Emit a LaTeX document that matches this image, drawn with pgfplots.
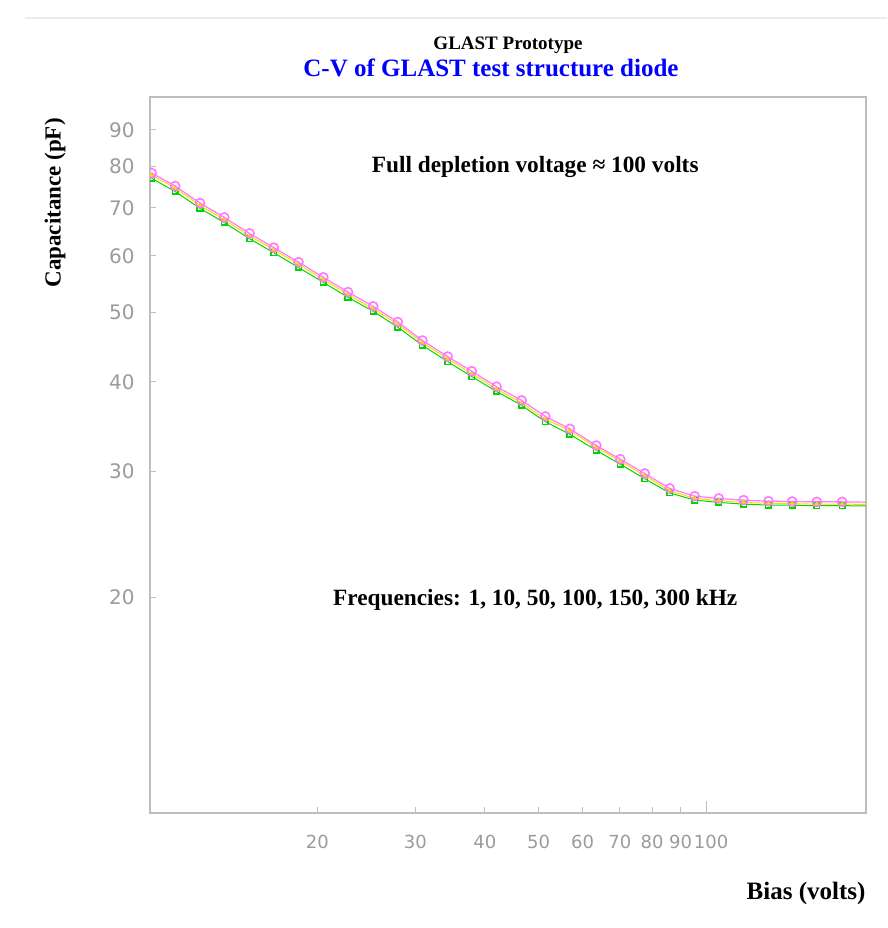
\documentclass[border=0pt]{standalone}
\usepackage{pgfplots}
\pgfplotsset{compat=1.18}
\usepackage{pgfplotstable}
\usepackage{fontspec}
\setmainfont{Liberation Serif}
\newfontfamily\tickfont{DejaVu Sans}
\definecolor{tickgray}{RGB}{155,155,155}
\definecolor{axisgray}{RGB}{190,190,190}
\definecolor{cvpink}{RGB}{255,120,255}
\definecolor{cvyellow}{RGB}{255,215,0}
\definecolor{cvgreen}{RGB}{0,215,0}
\definecolor{cvblue}{RGB}{0,0,255}

\pgfplotstableread{
x      g      yl     p
10.07  77.0   77.8   78.3
11.1   73.8   74.6   75.1
12.3   69.9   70.6   71.1
13.6   66.8   67.4   67.9
15.1   63.4   64.0   64.5
16.7   60.6   61.2   61.6
18.5   57.8   58.4   58.8
20.5   55.1   55.6   56.0
22.7   52.5   53.0   53.4
25.2   50.2   50.6   51.0
27.9   47.7   48.2   48.5
30.9   45.0   45.4   45.7
34.3   42.7   43.1   43.4
37.9   40.7   41.1   41.4
42.0   38.8   39.1   39.4
46.6   37.1   37.4   37.7
51.4   35.2   35.5   35.8
56.9   33.8   34.2   34.4
63.5   32.1   32.4   32.6
70.1   30.7   31.0   31.2
77.6   29.3   29.6   29.8
86.0   28.0   28.2   28.4
95.4   27.35  27.5   27.7
105.4  27.15  27.3   27.5
116.8  27.0   27.15  27.35
129.5  26.92  27.07  27.26
142.9  26.9   27.04  27.23
158.2  26.87  27.0   27.2
175.7  26.87  27.0   27.2
194.1  26.84  26.98  27.17
}\cvdata

\begin{document}
\begin{tikzpicture}
\begin{axis}[
  scale only axis,
  width=716bp, height=716bp,
  xmode=log, ymode=log,
  xmin=10, xmax=194, ymin=10, ymax=100,
  axis line style={axisgray, line width=1.3bp},
  tick style={axisgray, line width=1bp},
  major tick length=6bp,
  tick pos=left,
  tick align=inside,
  xtick={20,30,40,50,60,70,80,90},
  xticklabels={20,30,40,50,60,70,80,90},
  extra x ticks={100},
  extra x tick labels={100},
  extra x tick style={major tick length=12bp, xticklabel style={xshift=5bp}},
  ytick={20,30,40,50,60,70,80,90},
  yticklabels={20,30,40,50,60,70,80,90},
  /pgf/number format/assume math mode=true,
  yticklabel style={font=\tickfont\fontsize{20bp}{22bp}\selectfont, text=tickgray},
  xticklabel style={font=\tickfont\fontsize{18bp}{20bp}\selectfont, text=tickgray},
  xticklabel shift=19bp,
  yticklabel shift=12bp,
  xlabel={Bias (volts)},
  ylabel={Capacitance (pF)},
  label style={font=\bfseries\fontsize{23bp}{25bp}\selectfont},
  xlabel style={at={(axis description cs:1,0)}, anchor=east, yshift=-80bp, xshift=3bp, font=\bfseries\fontsize{25bp}{27bp}\selectfont},
  ylabel style={at={(axis description cs:-0.1327,0.852)}, anchor=center},
  clip marker paths=true,
]
\addplot[cvgreen, line width=1bp, mark=square, mark size=2.8bp, mark options={solid, line width=1.6bp}] table[x=x,y=g]{\cvdata};
\addplot[cvyellow, line width=1bp, mark=triangle*, mark size=2.2bp] table[x=x,y=yl]{\cvdata};
\addplot[cvpink, line width=1.2bp, mark=o, mark size=4.5bp, mark options={line width=1.6bp}] table[x=x,y=p]{\cvdata};

\node[font=\bfseries\fontsize{23.3bp}{25bp}\selectfont] at (axis description cs:0.538,0.902) {Full depletion voltage ≈ 100 volts};
\node[font=\bfseries\fontsize{23.3bp}{25bp}\selectfont] at (axis description cs:0.538,0.2975) {Frequencies: 1, 10, 50, 100, 150, 300 kHz};
\end{axis}
\node[font=\bfseries\fontsize{19bp}{21bp}\selectfont] at (358bp,768bp) {GLAST Prototype};
\node[font=\bfseries\fontsize{25bp}{27bp}\selectfont, text=cvblue] at (341bp,745bp) {C-V of GLAST test structure diode};
\draw[gray!15, line width=1.5bp] (-125bp,795bp) -- (737bp,795bp);
\path[use as bounding box] (-150bp,-115bp) rectangle (737bp,813bp);
\end{tikzpicture}
\end{document}
